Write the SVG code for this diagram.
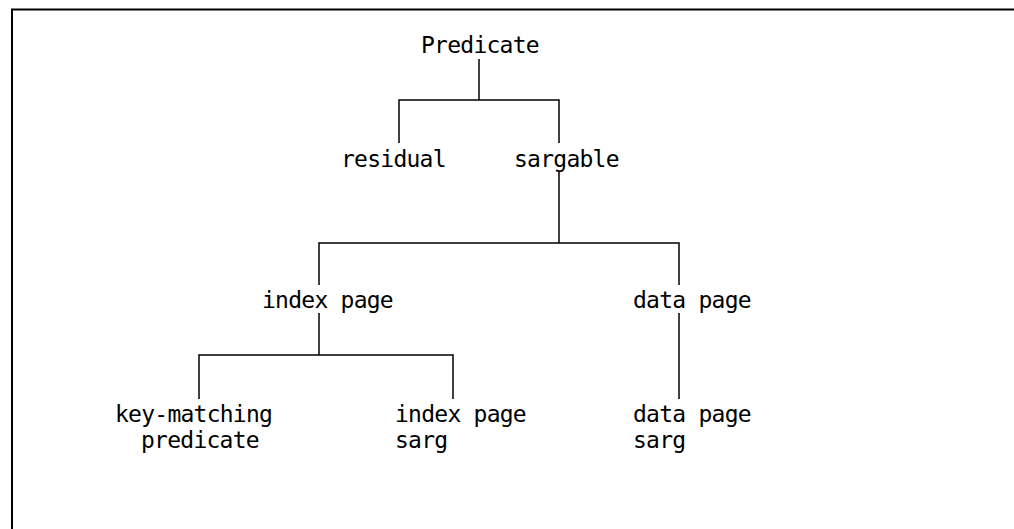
<svg xmlns="http://www.w3.org/2000/svg" width="1014" height="529" viewBox="0 0 1014 529">
  <style>
    .lbl { font-family: "DejaVu Sans Mono", "Liberation Mono", monospace; font-size: 23px; letter-spacing: -0.75px; fill: #000; }
    .edge { fill: none; stroke: #000; stroke-width: 1.5; }
    .frame { fill: none; stroke: #000; stroke-width: 2; }
  </style>
  <rect x="0" y="0" width="1014" height="529" fill="#fff"/>
  <!-- open frame: top and left edges only -->
  <path class="frame" d="M12,530 V9.5 H1015"/>

  <g id="connectors">
    <!-- Predicate -> residual / sargable -->
    <path class="edge" d="M479,59 V100"/>
    <path class="edge" d="M399,143 V100 H559 V143"/>
    <!-- sargable -> index page / data page -->
    <path class="edge" d="M559,172 V243"/>
    <path class="edge" d="M319,285 V243 H679 V285"/>
    <!-- index page -> key-matching predicate / index page sarg -->
    <path class="edge" d="M319,313 V355"/>
    <path class="edge" d="M199,399 V355 H453 V399"/>
    <!-- data page -> data page sarg -->
    <path class="edge" d="M679,313 V399"/>
  </g>

  <g id="node-predicate"><text class="lbl" x="421" y="53">Predicate</text></g>
  <g id="node-residual"><text class="lbl" x="341" y="167">residual</text></g>
  <g id="node-sargable"><text class="lbl" x="514" y="167">sargable</text></g>
  <g id="node-index-page"><text class="lbl" x="262" y="308">index page</text></g>
  <g id="node-data-page"><text class="lbl" x="633" y="308">data page</text></g>
  <g id="node-key-matching">
    <text class="lbl" x="115" y="422">key-matching</text>
    <text class="lbl" x="141" y="448">predicate</text>
  </g>
  <g id="node-index-page-sarg">
    <text class="lbl" x="395" y="422">index page</text>
    <text class="lbl" x="395" y="448">sarg</text>
  </g>
  <g id="node-data-page-sarg">
    <text class="lbl" x="633" y="422">data page</text>
    <text class="lbl" x="633" y="448">sarg</text>
  </g>
</svg>
